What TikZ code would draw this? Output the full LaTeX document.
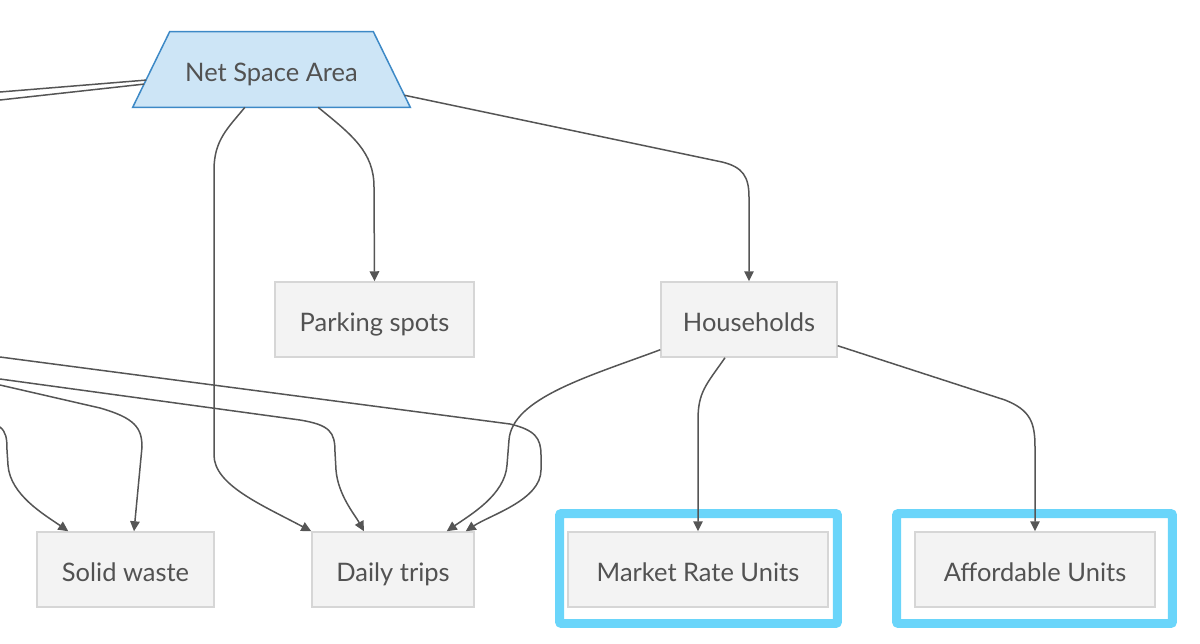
\documentclass[tikz,border=0pt]{standalone}
\usepackage{fontspec}
\setmainfont{Lato}
\usetikzlibrary{arrows.meta,calc,backgrounds}
\definecolor{boxfill}{HTML}{F3F3F3}
\definecolor{boxline}{HTML}{D6D6D6}
\definecolor{txt}{HTML}{525252}
\definecolor{conncol}{HTML}{555555}
\definecolor{nsafill}{HTML}{CDE5F6}
\definecolor{nsaline}{HTML}{3D89C6}
\definecolor{hlcol}{HTML}{6AD5FA}
\begin{document}
\begin{tikzpicture}[x=0.02cm,y=-0.02cm,
  every node/.style={font=\fontsize{14.5}{17}\selectfont, text=txt},
  box/.style={draw=boxline, fill=boxfill, line width=0.03cm, minimum height=1.5cm, inner sep=0, text height=0.46cm, text depth=0cm},
  frame/.style={draw=hlcol, line width=0.18cm, rounded corners=0.04cm, minimum height=2.2cm, inner sep=0},
  conn/.style={draw=conncol, line width=0.03cm, -{Triangle[length=0.2cm,width=0.19cm]}},
  plain/.style={draw=conncol, line width=0.03cm}]
\useasboundingbox (0,0) rectangle (1200,643);
% highlight frames
\node[frame, minimum width=5.56cm] (mruf) at (698.5,568.5) {};
\node[frame, minimum width=5.52cm] (auf) at (1034.5,568.5) {};
% Net Space Area (trapezoid)
\node[minimum width=5.54cm, minimum height=1.5cm, inner sep=0, text height=0.46cm, text depth=0cm] (nsa) at (271.5,69.5) {Net Space Area};
\coordinate (nsatl) at ($(nsa.north west)+(37,0)$);
\coordinate (nsatr) at ($(nsa.north east)+(-37,0)$);
\begin{scope}[on background layer]
\draw[fill=nsafill, draw=nsaline, line width=0.03cm, line join=miter] (nsa.south west) -- (nsatl) -- (nsatr) -- (nsa.south east) -- cycle;
\end{scope}
% boxes
\node[box, minimum width=3.98cm] (ps) at (374.5,319.5) {Parking spots};
\node[box, minimum width=3.52cm] (hh) at (749,319.5) {Households};
\node[box, minimum width=3.54cm] (sw) at (125.5,569.5) {Solid waste};
\node[box, minimum width=3.24cm] (dt) at (393,569.5) {Daily trips};
\node[box, minimum width=5.2cm] (mru) at (698,569.5) {Market Rate Units};
\node[box, minimum width=4.8cm] (au) at (1035,569.5) {Affordable Units};
% free ends
\coordinate (l1) at (0,92);
\coordinate (l2) at (0,100);
\coordinate (a0) at (0,357);
\coordinate (b0) at (0,379);
\coordinate (c0) at (0,385);
\coordinate (d0) at (0,427);
% connectors from Net Space Area
\draw[plain] ($(nsa.south west)!0.36!(nsatl)$) -- (l1);
\draw[plain] ($(nsa.south west)!0.307!(nsatl)$) -- (l2);
\draw[conn] ($(nsa.south west)!0.404!(nsa.south east)$) .. controls (228,128) and (214,140) .. (214,170)
  -- (214,455) .. controls (214,485) and (262,505) .. (dt.north west);
\draw[conn] ($(nsa.south west)!0.668!(nsa.south east)$) .. controls (352,135) and (374,152) .. (374,187) -- (ps.north);
\draw[conn] ($(nsa.south east)!0.16!(nsatr)$) -- (722,162) .. controls (743,167) and (749,177) .. (749,197) -- (hh.north);
% connectors from Households
\draw[conn] ($(hh.south west)+(0,-8)$) .. controls (590,376) and (512,398) .. (509,440) -- (507,465)
  .. controls (505,495) and (470,515) .. ($(dt.north east)+(-28,0)$);
\draw[conn] ($(hh.south)+(-24,0)$) .. controls (706,385) and (698,392) .. (698,420) -- (mru.north);
\draw[conn] ($(hh.south east)+(0,-12)$) -- (1005,400) .. controls (1030,410) and (1035,422) .. (1035,447) -- (au.north);
% connectors from the left
\draw[conn] (a0) -- (510,424) .. controls (535,430) and (541,438) .. (541,455) -- (541,470)
  .. controls (541,500) and (490,515) .. ($(dt.north east)+(-9,0)$);
\draw[conn] (b0) -- (300,420) .. controls (330,425) and (335,432) .. (335,452) -- (336,470)
  .. controls (338,495) and (355,515) .. ($(dt.north)+(-29,0)$);
\draw[conn] (c0) -- (100,408) .. controls (135,418) and (142,428) .. (142,447) -- ($(sw.north)+(8.5,0)$);
\draw[conn] (d0) .. controls (6,432) and (7,438) .. (7,450) -- (8,465)
  .. controls (10,495) and (45,515) .. ($(sw.north west)+(32,0)$);
\end{tikzpicture}
\end{document}
